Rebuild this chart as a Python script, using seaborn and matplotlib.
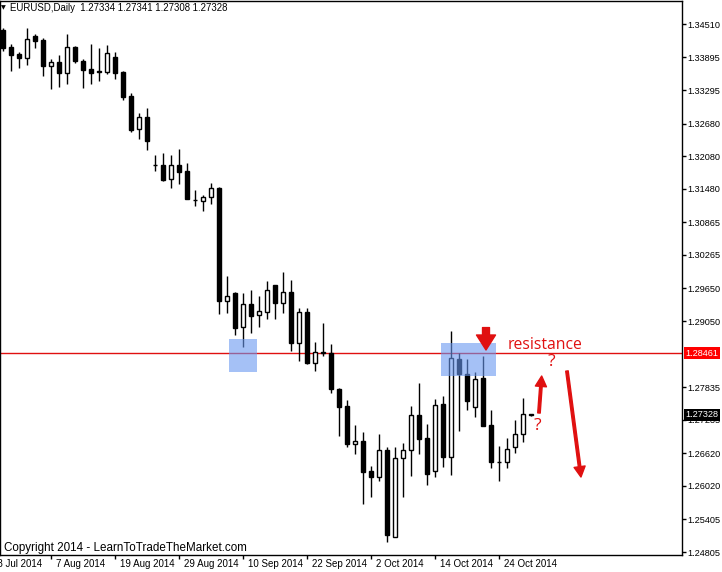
import numpy as np
import pandas as pd
import matplotlib
matplotlib.use("Agg")
import matplotlib.pyplot as plt
import matplotlib.transforms as mtransforms
from matplotlib.patches import Rectangle
import seaborn as sns

# ---------------- data (EURUSD daily, 30 Jul 2014 - 30 Oct 2014) ----------------
opens = [1.34400, 1.34082, 1.33958, 1.33890, 1.34289, 1.34216, 1.33743, 1.33806, 1.33615, 1.34082,
         1.33824, 1.33683, 1.33640, 1.33633, 1.33898, 1.33628, 1.33186, 1.32574, 1.32795, 1.31918,
         1.31918, 1.31655, 1.31918, 1.31808, 1.31275, 1.31262, 1.31324, 1.31495, 1.29424, 1.29571,
         1.28935, 1.29363, 1.29156, 1.29222, 1.29712, 1.29376, 1.29578, 1.28641, 1.29211, 1.28273,
         1.28457, 1.28457, 1.27801, 1.27488, 1.26795, 1.26845, 1.26294, 1.26189, 1.26674, 1.25086,
         1.26527, 1.26674, 1.27317, 1.26900, 1.26288, 1.27525, 1.26556, 1.28352, 1.28071, 1.27475,
         1.27998, 1.27139, 1.26465, 1.26453, 1.26729, 1.26974, 1.27334]
highs = [1.34431, 1.34142, 1.33990, 1.34431, 1.34321, 1.34247, 1.33861, 1.33940, 1.34326, 1.34106,
         1.33861, 1.34142, 1.34069, 1.34124, 1.33990, 1.33646, 1.33236, 1.32868, 1.32960, 1.32096,
         1.32133, 1.32096, 1.32207, 1.31949, 1.31459, 1.31367, 1.31582, 1.31519, 1.29878, 1.29584,
         1.29560, 1.29621, 1.29510, 1.29786, 1.29722, 1.29946, 1.29804, 1.29284, 1.29284, 1.28665,
         1.29008, 1.28628, 1.27814, 1.27599, 1.27139, 1.27010, 1.26386, 1.26974, 1.26729, 1.26729,
         1.26803, 1.27488, 1.27917, 1.27158, 1.27617, 1.27672, 1.28867, 1.28457, 1.28347, 1.28119,
         1.28407, 1.27415, 1.26753, 1.26895, 1.27231, 1.27630, 1.27341]
lows = [1.34019, 1.33652, 1.33707, 1.33756, 1.34074, 1.33560, 1.33321, 1.33357, 1.33407, 1.33788,
        1.33339, 1.33413, 1.33468, 1.33585, 1.33504, 1.33118, 1.32530, 1.32402, 1.32194, 1.31813,
        1.31630, 1.31495, 1.31569, 1.31290, 1.31165, 1.31073, 1.31201, 1.29179, 1.29203, 1.28793,
        1.28578, 1.28825, 1.28946, 1.29082, 1.29082, 1.29203, 1.28505, 1.28321, 1.28262, 1.28137,
        1.28407, 1.27722, 1.26937, 1.26740, 1.26606, 1.25693, 1.25821, 1.26115, 1.24994, 1.25075,
        1.25821, 1.26207, 1.26606, 1.26036, 1.26189, 1.26373, 1.26220, 1.27034, 1.27415, 1.27292,
        1.27120, 1.26354, 1.26115, 1.26343, 1.26630, 1.26832, 1.27308]
closes = [1.34074, 1.33946, 1.33890, 1.34229, 1.34203, 1.33743, 1.33806, 1.33615, 1.34082, 1.33835,
          1.33670, 1.33615, 1.33637, 1.33971, 1.33615, 1.33174, 1.32562, 1.32795, 1.32359, 1.31915,
          1.31642, 1.31918, 1.31795, 1.31299, 1.31272, 1.31330, 1.31490, 1.29424, 1.29505, 1.28928,
          1.29363, 1.29148, 1.29229, 1.29615, 1.29387, 1.29578, 1.28641, 1.29211, 1.28270, 1.28475,
          1.28475, 1.27795, 1.27475, 1.26795, 1.26840, 1.26281, 1.26189, 1.26674, 1.25123, 1.26533,
          1.26674, 1.27317, 1.26887, 1.26244, 1.27501, 1.26556, 1.28365, 1.28071, 1.27586, 1.27979,
          1.27126, 1.26465, 1.26455, 1.26692, 1.26968, 1.27336, 1.27328]

date_labels = ["28 Jul 2014", "7 Aug 2014", "19 Aug 2014", "29 Aug 2014", "10 Sep 2014",
               "22 Sep 2014", "2 Oct 2014", "14 Oct 2014", "24 Oct 2014"]
date_label_bars = [-2, 6, 14, 22, 30, 38, 46, 54, 62]
ytick_values = [1.34510, 1.33895, 1.33295, 1.32680, 1.32080, 1.31480, 1.30865, 1.30265,
                1.29650, 1.29050, 1.27835, 1.27235, 1.26620, 1.26020, 1.25405, 1.24805]
resistance_level = 1.28461
last_price = 1.27328
title_text = "EURUSD,Daily  1.27334 1.27341 1.27308 1.27328"
copyright_text = "Copyright 2014 - LearnToTradeTheMarket.com"

# ---------------- style ----------------
sns.set_theme(style="white")
plt.rcParams['font.family'] = ['Liberation Sans', 'DejaVu Sans']

RED = '#e01010'
BLUE = (105 / 255, 152 / 255, 240 / 255)

df = pd.DataFrame({"open": opens, "high": highs, "low": lows, "close": closes})
df["bar"] = np.arange(len(df))
df["bull"] = df["close"] >= df["open"]
df["body_bottom"] = df[["open", "close"]].min(axis=1)
df["body_h"] = (df["close"] - df["open"]).abs().clip(lower=0.00002)

fig = plt.figure(figsize=(7.22, 5.72), dpi=100)
ax = fig.add_axes([0, 17 / 572, 682 / 722, 554 / 572])
ax.set_facecolor('white')

# wicks
ax.vlines(df["bar"], df["low"], df["high"], color='black', lw=1, zorder=3)
# bodies
body_colors = np.where(df["bull"], 'white', 'black')
ax.bar(df["bar"], df["body_h"], bottom=df["body_bottom"], width=0.5,
       color=body_colors, edgecolor='black', linewidth=1, zorder=4)

# resistance line
ax.axhline(resistance_level, color=RED, lw=1, zorder=2)

# highlighted zones
ax.add_patch(Rectangle((28.2, 1.28119), 3.5, 0.00601, facecolor=BLUE, alpha=0.6, lw=0, zorder=5))
ax.add_patch(Rectangle((54.7, 1.28049), 6.85, 0.00597, facecolor=BLUE, alpha=0.6, lw=0, zorder=5))

# red arrow pointing down onto resistance
ax.annotate('', xy=(60.34, 1.28518), xytext=(60.34, 1.28930),
            arrowprops=dict(arrowstyle='simple,head_length=1.08,head_width=1.37,tail_width=0.5',
                            color=RED, shrinkA=0, shrinkB=0, mutation_scale=10), zorder=6)
# up arrow
ax.annotate('', xy=(67.3, 1.28040), xytext=(66.96, 1.27360),
            arrowprops=dict(arrowstyle='simple,head_length=0.75,head_width=0.8,tail_width=0.18',
                            color=RED, shrinkA=0, shrinkB=0, mutation_scale=10), zorder=6)
# down arrow
ax.annotate('', xy=(72.21, 1.26183), xytext=(70.46, 1.28132),
            arrowprops=dict(arrowstyle='simple,head_length=0.75,head_width=0.8,tail_width=0.18',
                            color=RED, shrinkA=0, shrinkB=0, mutation_scale=10), zorder=6)

ax.text(63.1, 1.28610, "resistance", color=RED, fontsize=11.3, ha='left', va='center',
        family=['Open Sans', 'DejaVu Sans'], zorder=6)
ax.text(68.5, 1.28297, "?", color=RED, fontsize=12.5, ha='center', va='center',
        family=['Open Sans', 'DejaVu Sans'], zorder=6)
ax.text(66.8, 1.27121, "?", color=RED, fontsize=12.5, ha='center', va='center',
        family=['Open Sans', 'DejaVu Sans'], zorder=6)

# axes limits
ax.set_xlim(-0.41, 84.84)
ax.set_ylim(1.24750, 1.34933)

# y axis on the right
ax.yaxis.tick_right()
ax.set_yticks(ytick_values)
ax.set_yticklabels([f"{v:.5f}" for v in ytick_values])
ax.tick_params(axis='y', which='major', direction='out', length=3, width=1, color='black',
               labelsize=6.6, pad=1.2, right=True, left=False, labelcolor='black')

# x axis ticks
ax.set_xticks([b for b in date_label_bars if b >= 0])
ax.set_xticklabels([])
ax.tick_params(axis='x', which='major', direction='out', length=3, width=1, color='black', bottom=True)

trans_x = mtransforms.blended_transform_factory(ax.transData, ax.transAxes)
offset = mtransforms.ScaledTranslation(5 / 100, -4 / 100, fig.dpi_scale_trans)
for b, lab in zip(date_label_bars, date_labels):
    ax.text(b, 0, lab, transform=trans_x + offset, ha='left', va='top', fontsize=7,
            color='black', clip_on=False)

for s in ax.spines.values():
    s.set_color('black')
    s.set_linewidth(1)
    s.set_visible(True)

# price boxes on the right
trans_y = mtransforms.blended_transform_factory(ax.transAxes, ax.transData)
off_y = mtransforms.ScaledTranslation(3.5 / 100, 0, fig.dpi_scale_trans)
ax.text(1.0, resistance_level, f"{resistance_level:.5f}", transform=trans_y + off_y,
        ha='left', va='center', color='white', fontsize=6.6, clip_on=False, zorder=10,
        bbox=dict(boxstyle='square,pad=0.18', fc='#ff0000', ec='none'))
ax.text(1.0, last_price, f"{last_price:.5f}", transform=trans_y + off_y,
        ha='left', va='center', color='white', fontsize=6.6, clip_on=False, zorder=10,
        bbox=dict(boxstyle='square,pad=0.18', fc='black', ec='none'))

# header and copyright
fig.text(1 / 722, 1 - 8 / 572, "\u25BC", fontsize=4.5, ha='left', va='center', color='black',
         family=['DejaVu Sans'])
fig.text(10 / 722, 1 - 8 / 572, title_text, fontsize=6.9, ha='left', va='center', color='black')
fig.text(4 / 722, 1 - 548 / 572, copyright_text, fontsize=8.4, ha='left', va='center', color='black')

fig.savefig("out.png", dpi=100, facecolor='white')
